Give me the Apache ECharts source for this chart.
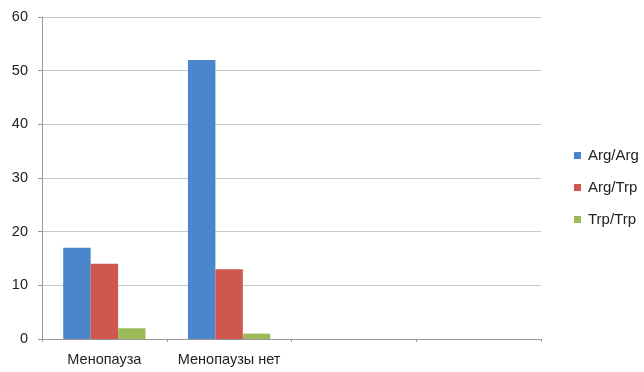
<!DOCTYPE html>
<html><head><meta charset="utf-8">
<script src="https://cdn.jsdelivr.net/npm/echarts@6/dist/echarts.min.js"></script>
<style>html,body{margin:0;padding:0;background:#fff}#c{width:644px;height:372px}</style>
</head><body><div id="c"></div>
<script>
const categories = ['Менопауза', 'Менопаузы нет', '', ''];
const seriesNames = ['Arg/Arg', 'Arg/Trp', 'Trp/Trp'];
const argArg = [17, 52, null, null];
const argTrp = [14, 13, null, null];
const trpTrp = [2, 1, null, null];
const colors = ['#4A86CC', '#D0574E', '#9BBB59'];

const chart = echarts.init(document.getElementById('c'));
const font = 'Liberation Sans, Arial, sans-serif';
chart.setOption({
  animation: false,
  color: colors,
  grid: { left: 42, right: 103, top: 17, bottom: 33 },
  legend: {
    orient: 'vertical', left: 569, top: 143,
    itemWidth: 7, itemHeight: 7, itemGap: 17, icon: 'rect',
    textStyle: { fontFamily: font, fontSize: 15, color: '#222', padding: [0, 0, 0, 2] },
    data: seriesNames
  },
  xAxis: {
    type: 'category', data: categories,
    axisLine: { lineStyle: { color: '#999' } },
    axisTick: { show: true, interval: 0, length: 3, lineStyle: { color: '#999' } },
    axisLabel: { interval: 0, fontFamily: font, fontSize: 14.5, color: '#222', margin: 13 }
  },
  yAxis: {
    type: 'value', min: 0, max: 60, interval: 10,
    axisLine: { show: true, lineStyle: { color: '#999' } },
    axisTick: { show: true, length: 4, lineStyle: { color: '#999' } },
    axisLabel: { fontFamily: font, fontSize: 14.5, color: '#222', margin: 14 },
    splitLine: { lineStyle: { color: '#c8c8c8', width: 1 } }
  },
  series: [
    { name: seriesNames[0], type: 'bar', data: argArg, barGap: '0%', barCategoryGap: '34%' },
    { name: seriesNames[1], type: 'bar', data: argTrp, barGap: '0%', barCategoryGap: '34%' },
    { name: seriesNames[2], type: 'bar', data: trpTrp, barGap: '0%', barCategoryGap: '34%' }
  ]
});
</script></body></html>
